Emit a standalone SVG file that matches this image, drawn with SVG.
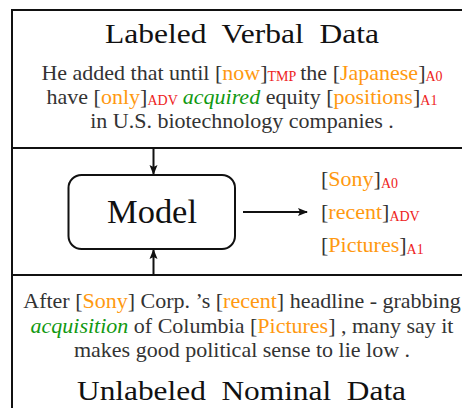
<svg xmlns="http://www.w3.org/2000/svg" width="462" height="408" viewBox="0 0 462 408">
  <style>
    .frame { fill: none; stroke: #111; stroke-width: 2; }
    .conn { stroke: #111; stroke-width: 2; fill: none; }
    .title { font-family: "Liberation Serif", "Times New Roman", serif; font-size: 28px; fill: #111; }
    .body { font-family: "Liberation Serif", "Times New Roman", serif; font-size: 22px; fill: #333; }
    .arg { fill: #FF9910; }
    .lab { fill: #EE2222; font-size: 14px; }
    .pred { fill: #119911; font-style: italic; }
    .model { font-family: "Liberation Serif", "Times New Roman", serif; font-size: 33px; fill: #111; }
  </style>
  <defs>
    <marker id="ah" markerWidth="10" markerHeight="10" refX="9" refY="5" orient="auto" markerUnits="userSpaceOnUse">
      <path d="M0,1 L10,5 L0,9 L2,5 z" fill="#111"/>
    </marker>
  </defs>
  <rect width="462" height="408" fill="#fff"/>

  <g id="frame">
    <rect class="frame" x="12" y="10" width="460" height="410"/>
    <line class="frame" x1="12" y1="148" x2="472" y2="148"/>
    <line class="frame" x1="12" y1="275" x2="472" y2="275"/>
  </g>

  <g id="labeled-data">
    <text class="title" x="242" y="43" text-anchor="middle" textLength="274" lengthAdjust="spacingAndGlyphs" xml:space="preserve">Labeled  Verbal  Data</text>
    <text class="body" x="242" y="80" text-anchor="middle">He added that until [<tspan class="arg">now</tspan>]<tspan class="lab" dy="1">TMP</tspan><tspan dx="4" dy="-1">the [</tspan><tspan class="arg">Japanese</tspan>]<tspan class="lab" dy="1">A0</tspan></text>
    <text class="body" x="242" y="104" text-anchor="middle">have [<tspan class="arg">only</tspan>]<tspan class="lab" dy="1">ADV</tspan><tspan class="pred" dx="5" dy="-1">acquired</tspan> equity [<tspan class="arg">positions</tspan>]<tspan class="lab" dy="1">A1</tspan></text>
    <text class="body" x="242" y="128" text-anchor="middle">in U.S. biotechnology companies .</text>
  </g>

  <g id="model">
    <rect x="68.5" y="175" width="166.5" height="74" rx="13" ry="13" fill="#fff" stroke="#111" stroke-width="2"/>
    <text class="model" x="152" y="223" text-anchor="middle" textLength="90" lengthAdjust="spacingAndGlyphs">Model</text>
  </g>

  <g id="output">
    <text class="body" x="321" y="186">[<tspan class="arg">Sony</tspan>]<tspan class="lab" dy="2">A0</tspan></text>
    <text class="body" x="321" y="219">[<tspan class="arg">recent</tspan>]<tspan class="lab" dy="2">ADV</tspan></text>
    <text class="body" x="321" y="252">[<tspan class="arg">Pictures</tspan>]<tspan class="lab" dy="2">A1</tspan></text>
  </g>

  <g id="unlabeled-data">
    <text class="body" x="242" y="308" text-anchor="middle">After [<tspan class="arg">Sony</tspan>] Corp. ’s [<tspan class="arg">recent</tspan>] headline - grabbing</text>
    <text class="body" x="242" y="333" text-anchor="middle"><tspan class="pred">acquisition</tspan> of Columbia [<tspan class="arg">Pictures</tspan>] , many say it</text>
    <text class="body" x="242" y="357" text-anchor="middle">makes good political sense to lie low .</text>
    <text class="title" x="241.5" y="400" text-anchor="middle" textLength="329" lengthAdjust="spacingAndGlyphs" xml:space="preserve">Unlabeled  Nominal  Data</text>
  </g>

  <g id="connectors">
    <line class="conn" x1="153.5" y1="148" x2="153.5" y2="174" marker-end="url(#ah)"/>
    <line class="conn" x1="153.5" y1="275" x2="153.5" y2="250" marker-end="url(#ah)"/>
    <line class="conn" x1="243" y1="212" x2="307" y2="212" marker-end="url(#ah)"/>
  </g>
</svg>
